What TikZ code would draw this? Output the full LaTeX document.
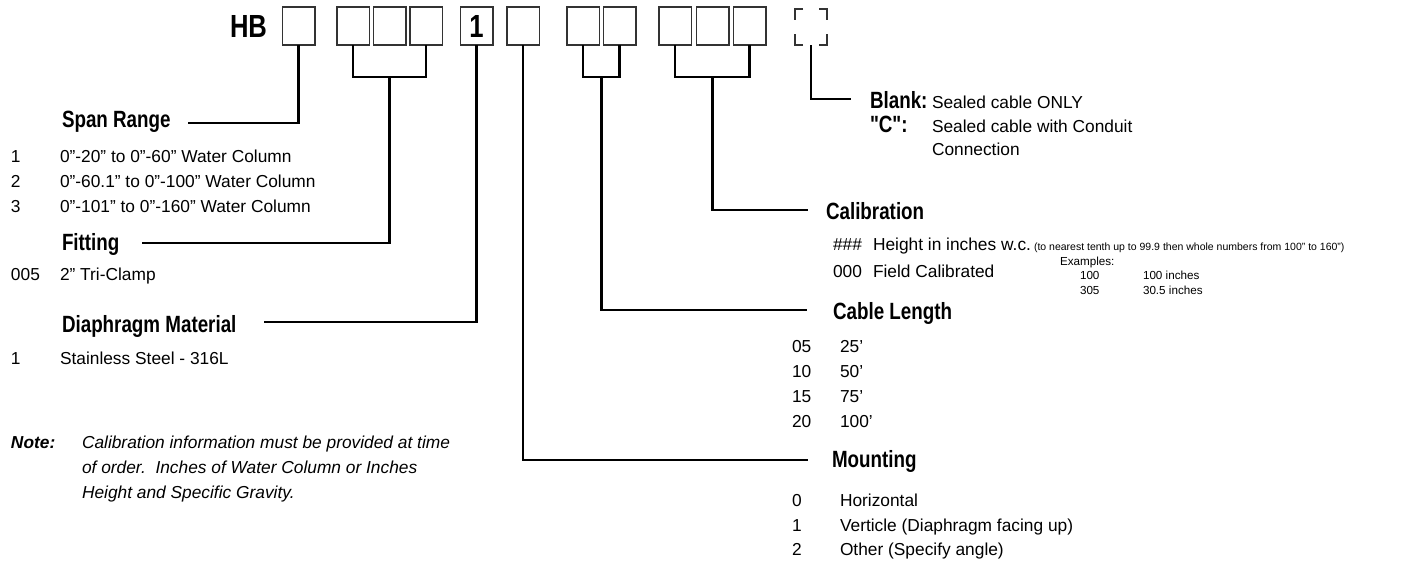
\documentclass[tikz,border=0pt]{standalone}
\usepackage{fontspec}
\setmainfont{Liberation Sans}
\newfontfamily\condfont{Liberation Sans}[FakeStretch=0.8]
\usetikzlibrary{positioning,calc}
\tikzset{
  every node/.style={inner sep=0pt, outer sep=0pt},
  slot/.style={draw=black!80, line width=0.9pt, minimum width=19.5pt, minimum height=22.8pt},
  lead/.style={line width=1.7pt},
  corner/.style={draw=black!80, line width=0.9pt},
  title/.style={font=\condfont\bfseries\fontsize{19.2}{21}\selectfont},
  head/.style={font=\condfont\bfseries\fontsize{14.1}{16}\selectfont, anchor=base west},
  body/.style={font=\fontsize{10.4}{12}\selectfont, anchor=base west},
  note/.style={font=\itshape\fontsize{10.4}{12}\selectfont, anchor=base west},
  tiny/.style={font=\fontsize{6.3}{8}\selectfont, anchor=base west},
  ex/.style={font=\fontsize{7}{8}\selectfont, anchor=base west},
}

\begin{document}
\begin{tikzpicture}[x=0.6pt, y=-0.6pt]
    \useasboundingbox (0,0) rectangle (1404,565);
    % model code boxes
    \node[title, anchor=base west] (hb) at (230,37) {HB};
    \node[slot] (b1) at (298.5,26) {};
    \node[slot] (b2) at (353,26) {};
    \node[slot] (b3) at (389.5,26) {};
    \node[slot] (b4) at (426,26) {};
    \node[slot, title] (b5) at (476.5,26) {1};
    \node[slot] (b6) at (523,26) {};
    \node[slot] (b7) at (583,26) {};
    \node[slot] (b8) at (619.5,26) {};
    \node[slot] (b9) at (675,26) {};
    \node[slot] (b10) at (712.5,26) {};
    \node[slot] (b11) at (749.5,26) {};
    \node[minimum width=19.2pt, minimum height=21.6pt] (b12) at (811,27) {};
    \draw[corner] ($(b12.north west)+(8,0)$) -- (b12.north west) -- ($(b12.north west)+(0,11)$);
    \draw[corner] ($(b12.north east)+(-8,0)$) -- (b12.north east) -- ($(b12.north east)+(0,11)$);
    \draw[corner] ($(b12.south west)+(8,0)$) -- (b12.south west) -- ($(b12.south west)+(0,-11)$);
    \draw[corner] ($(b12.south east)+(-8,0)$) -- (b12.south east) -- ($(b12.south east)+(0,-11)$);

    % leader lines
    \coordinate (fitJ) at ($(b2.south)!0.5!(b4.south)+(0,32)$);
    \coordinate (cabJ) at ($(b7.south)!0.5!(b8.south)+(0,32)$);
    \coordinate (calJ) at ($(b9.south)!0.5!(b11.south)+(0,32)$);
    \coordinate (spanEnd) at (188,123);
    \coordinate (fitEnd) at (142,243);
    \coordinate (diaEnd) at (264,322);
    \coordinate (blkEnd) at (851,99);
    \coordinate (calEnd) at (808,210);
    \coordinate (cabEnd) at (807,310);
    \coordinate (mntEnd) at (808,460);
    \draw[lead] (b1.south) |- (spanEnd);
    \draw[lead] (b2.south) |- (fitJ) -| (b4.south);
    \draw[lead] (fitJ) |- (fitEnd);
    \draw[lead] (b5.south) |- (diaEnd);
    \draw[lead] (b6.south) |- (mntEnd);
    \draw[lead] (b7.south) |- (cabJ) -| (b8.south);
    \draw[lead] (cabJ) |- (cabEnd);
    \draw[lead] (b9.south) |- (calJ) -| (b11.south);
    \draw[lead] (calJ) |- (calEnd);
    \draw[lead] (b12.south) |- (blkEnd);

    % span range
    \node[head] (span) at (62,127) {Span Range};
    \node[body] (sp1) at (11,162) {1};
    \node[body] (sp1t) at (60,162) {0”-20” to 0”-60” Water Column};
    \node[body] (sp2) at (11,187) {2};
    \node[body] (sp2t) at (60,187) {0”-60.1” to 0”-100” Water Column};
    \node[body] (sp3) at (11,212) {3};
    \node[body] (sp3t) at (60,212) {0”-101” to 0”-160” Water Column};
    % fitting
    \node[head] (fit) at (62,250) {Fitting};
    \node[body] (fit1) at (11,280) {005};
    \node[body] (fit1t) at (60,280) {2” Tri-Clamp};
    % diaphragm
    \node[head] (dia) at (62,332) {Diaphragm Material};
    \node[body] (dia1) at (11,364) {1};
    \node[body] (dia1t) at (60,364) {Stainless Steel - 316L};
    % note
    \node[note, font=\bfseries\itshape\fontsize{10.4}{12}\selectfont] (nt) at (11,448) {Note:};
    \node[note] (nt1) at (82,448) {Calibration information must be provided at time};
    \node[note] (nt2) at (82,473) {of order.\ \ Inches of Water Column or Inches};
    \node[note] (nt3) at (82,498) {Height and Specific Gravity.};

    % blank / C
    \node[head] (blk) at (870,108) {Blank:};
    \node[body] (blkt) at (932,108) {Sealed cable ONLY};
    \node[head] (cc) at (870,132) {"C":};
    \node[body] (cct) at (932,132) {Sealed cable with Conduit};
    \node[body] (cct2) at (932,155) {Connection};
    % calibration
    \node[head] (cal) at (826,219) {Calibration};
    \node[body] (cal1) at (833,250) {\#\#\#};
    \node[body] (cal1t) at (873,250) {Height in inches w.c.};
    \node[tiny] (cal1n) at (1034,250) {(to nearest tenth up to 99.9 then whole numbers from 100” to 160”)};
    \node[body] (cal2) at (833,277) {000};
    \node[body] (cal2t) at (873,277) {Field Calibrated};
    \node[ex] (exh) at (1060,265) {Examples:};
    \node[ex] (ex1) at (1080,279) {100};
    \node[ex] (ex1t) at (1143,279) {100 inches};
    \node[ex] (ex2) at (1080,294) {305};
    \node[ex] (ex2t) at (1143,294) {30.5 inches};
    % cable length
    \node[head] (cab) at (833,319) {Cable Length};
    \node[body] (cb1) at (792,352) {05};
    \node[body] (cb1t) at (840,352) {25’};
    \node[body] (cb2) at (792,377) {10};
    \node[body] (cb2t) at (840,377) {50’};
    \node[body] (cb3) at (792,402) {15};
    \node[body] (cb3t) at (840,402) {75’};
    \node[body] (cb4) at (792,427) {20};
    \node[body] (cb4t) at (840,427) {100’};
    % mounting
    \node[head] (mnt) at (832,467) {Mounting};
    \node[body] (mt0) at (792,506) {0};
    \node[body] (mt0t) at (840,506) {Horizontal};
    \node[body] (mt1) at (792,531) {1};
    \node[body] (mt1t) at (840,531) {Verticle (Diaphragm facing up)};
    \node[body] (mt2) at (792,555) {2};
    \node[body] (mt2t) at (840,555) {Other (Specify angle)};
\end{tikzpicture}
\end{document}
